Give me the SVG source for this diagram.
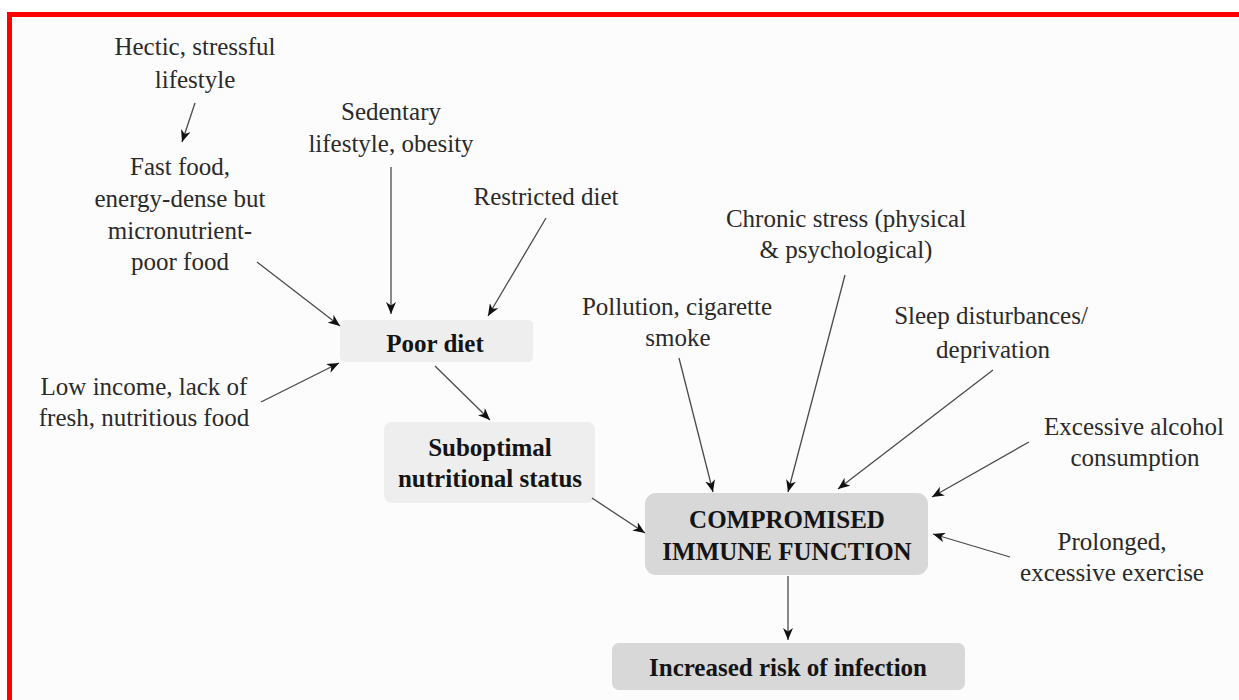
<svg xmlns="http://www.w3.org/2000/svg" width="1239" height="700" viewBox="0 0 1239 700">
  <defs>
    <marker id="ah" viewBox="0 0 12 10" refX="12" refY="5" markerWidth="12" markerHeight="10" markerUnits="userSpaceOnUse" orient="auto">
      <path d="M0,0 L12,5 L0,10 L3.5,5 z" fill="#111"/>
    </marker>
    <style>
      .t { font-family: "Liberation Serif", "Times New Roman", serif; font-size: 25px; fill: #2a2a2a; text-anchor: middle; }
      .b { font-family: "Liberation Serif", "Times New Roman", serif; font-size: 25px; font-weight: bold; fill: #141414; text-anchor: middle; }
      .light { fill: #eeeeee; }
      .dark { fill: #d8d8d8; }
      .c line { stroke: #4a4a4a; stroke-width: 1.3; marker-end: url(#ah); }
    </style>
  </defs>

  <rect x="0" y="0" width="1239" height="700" fill="#ffffff"/>
  <rect x="12" y="17" width="1227" height="683" fill="#fcfcfc"/>
  <!-- red frame -->
  <rect x="7" y="12" width="1232" height="5" fill="#ff0000"/>
  <rect x="7" y="12" width="5" height="688" fill="#ff0000"/>

  <g id="hectic">
    <text class="t" x="195" y="55">Hectic, stressful</text>
    <text class="t" x="195" y="88">lifestyle</text>
  </g>
  <g id="fastfood">
    <text class="t" x="180" y="175">Fast food,</text>
    <text class="t" x="180" y="207">energy-dense but</text>
    <text class="t" x="180" y="239">micronutrient-</text>
    <text class="t" x="180" y="270">poor food</text>
  </g>
  <g id="sedentary">
    <text class="t" x="391" y="120">Sedentary</text>
    <text class="t" x="391" y="152">lifestyle, obesity</text>
  </g>
  <g id="restricted">
    <text class="t" x="546" y="205">Restricted diet</text>
  </g>
  <g id="lowincome">
    <text class="t" x="144" y="395">Low income, lack of</text>
    <text class="t" x="144" y="426">fresh, nutritious food</text>
  </g>
  <g id="poordiet">
    <rect class="light" x="340" y="320" width="193" height="42" rx="5"/>
    <text class="b" x="435" y="352">Poor diet</text>
  </g>
  <g id="suboptimal">
    <rect class="light" x="384" y="422" width="211" height="81" rx="8"/>
    <text class="b" x="490" y="456">Suboptimal</text>
    <text class="b" x="490" y="487">nutritional status</text>
  </g>
  <g id="pollution">
    <text class="t" x="677" y="315">Pollution, cigarette</text>
    <text class="t" x="678" y="346">smoke</text>
  </g>
  <g id="chronic">
    <text class="t" x="846" y="227">Chronic stress (physical</text>
    <text class="t" x="846" y="258">&amp; psychological)</text>
  </g>
  <g id="sleep">
    <text class="t" x="991" y="324">Sleep disturbances/</text>
    <text class="t" x="993" y="358">deprivation</text>
  </g>
  <g id="alcohol">
    <text class="t" x="1134" y="435">Excessive alcohol</text>
    <text class="t" x="1135" y="466">consumption</text>
  </g>
  <g id="exercise">
    <text class="t" x="1112" y="550">Prolonged,</text>
    <text class="t" x="1112" y="581">excessive exercise</text>
  </g>
  <g id="compromised">
    <rect class="dark" x="645" y="493" width="283" height="82" rx="11"/>
    <text class="b" x="787" y="528">COMPROMISED</text>
    <text class="b" x="787" y="560">IMMUNE FUNCTION</text>
  </g>
  <g id="infection">
    <rect class="dark" x="612" y="643" width="353" height="47" rx="7"/>
    <text class="b" x="788" y="676">Increased risk of infection</text>
  </g>

  <g id="connectors" class="c">
    <line x1="195" y1="103" x2="182" y2="142"/>
    <line x1="391" y1="167" x2="391" y2="314"/>
    <line x1="257" y1="262" x2="340" y2="326"/>
    <line x1="546" y1="218" x2="488" y2="316"/>
    <line x1="261" y1="402" x2="339" y2="363"/>
    <line x1="435" y1="366" x2="490" y2="420"/>
    <line x1="592" y1="498" x2="645" y2="533"/>
    <line x1="679" y1="358" x2="713" y2="492"/>
    <line x1="845" y1="275" x2="788" y2="492"/>
    <line x1="993" y1="370" x2="838" y2="489"/>
    <line x1="1029" y1="442" x2="932" y2="497"/>
    <line x1="1010" y1="557" x2="933" y2="534"/>
    <line x1="788" y1="576" x2="788" y2="640"/>
  </g>
</svg>
